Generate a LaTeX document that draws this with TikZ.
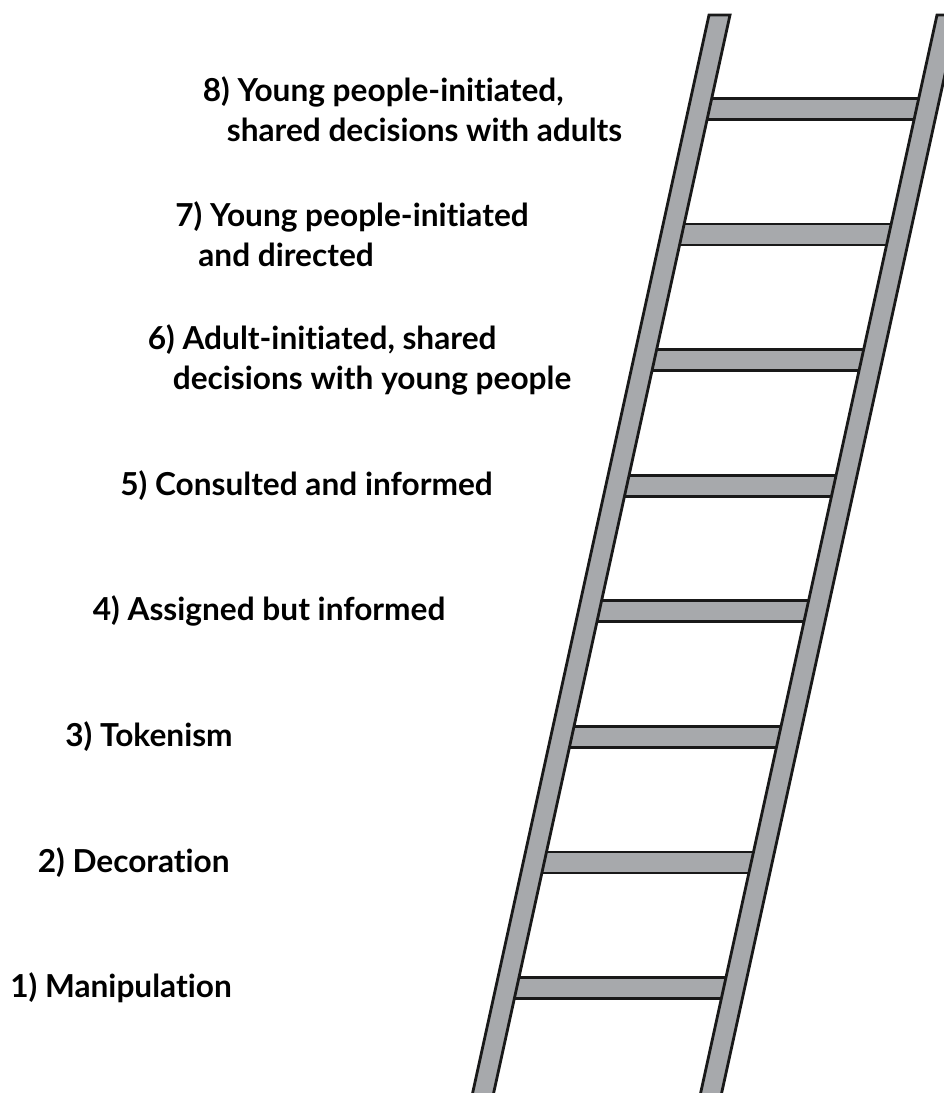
\documentclass[tikz,border=0pt]{standalone}
\usepackage{fontspec}
\setmainfont{Lato}[Ligatures={NoCommon}]
\usepackage{tikz}
\definecolor{railgray}{RGB}{167,169,172}
\tikzstyle{rail} = [draw=black!90, fill=railgray, line width=1.6pt, line join=miter]
\tikzstyle{rung} = [draw=black!90, fill=railgray, line width=1.6pt]
\tikzstyle{steptext} = [anchor=west, inner sep=0pt, align=left,
    font=\fontsize{18}{22.8}\selectfont\bfseries]

\begin{document}
\begin{tikzpicture}[x=0.02cm, y=-0.02cm]
    \useasboundingbox (0,0) rectangle (944,1093);
    \clip (0,0) rectangle (944,1093);
    % Rungs
    \foreach \i in {1,...,8}{
        \pgfmathsetmacro{\yc}{988-125.6*(\i-1)}
        \pgfmathsetmacro{\xl}{719.5-0.2189*(\yc-15)}
        \pgfmathsetmacro{\xr}{947.5-0.2189*(\yc-15)}
        \draw[rung] (\xl,\yc-10.5) rectangle (\xr,\yc+10.5);
    }
    % Rails
    \draw[rail] (709,15) -- (730,15) -- (491,1105) -- (470,1105) -- cycle;
    \draw[rail] (937,15) -- (958,15) -- (719,1105) -- (698,1105) -- cycle;
    % Labels
    \foreach \i/\txt in {1/{Manipulation}, 2/{Decoration}, 3/{Tokenism},
        4/{Assigned but informed}, 5/{Consulted and informed},
        6/{Adult-initiated, shared\\\hspace*{0.5cm}decisions with young people},
        7/{Young people-initiated\\\hspace*{0.46cm}and directed},
        8/{Young people-initiated,\\\hspace*{0.48cm}shared decisions with adults}}
        \node[steptext] (t\i) at (10+27.5*\i-27.5, 988-125.6*\i+125.6) {\i) \txt};
\end{tikzpicture}
\end{document}
